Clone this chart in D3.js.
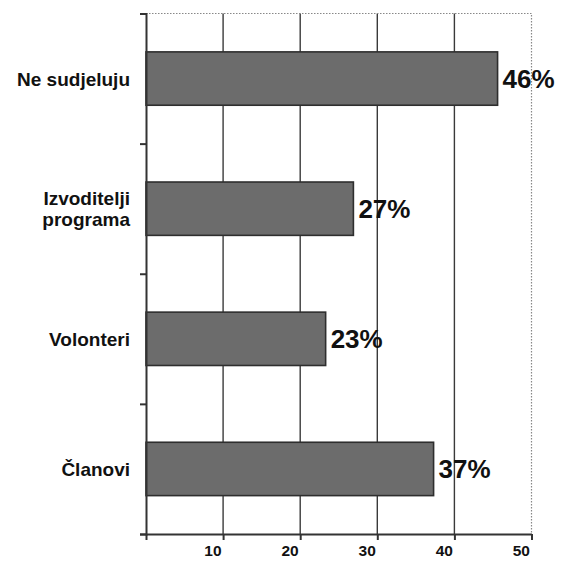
<!DOCTYPE html>
<html>
<head>
<meta charset="utf-8">
<script src="https://cdn.jsdelivr.net/npm/d3@7"></script>
<style>
  body { margin: 0; background: #fff; }
  text { font-family: "Liberation Sans", Arial, sans-serif; font-weight: bold; fill: #111; }
</style>
</head>
<body>
<svg></svg>
<script>
var width = 561;
var height = 568;
var margin = {top: 13.5, right: 29.5, bottom: 34, left: 146};

var categories = ["Ne sudjeluju", "Izvoditelji\nprograma", "Volonteri", "Članovi"];
var values = [45.6, 26.9, 23.3, 37.3];
var valueLabels = ["46%", "27%", "23%", "37%"];
var xTicks = [0, 10, 20, 30, 40, 50];

var svg = d3.select("svg")
    .attr("width", width)
    .attr("height", height);

var xScale = d3.scaleLinear()
    .domain([0, 50])
    .range([margin.left, width - margin.right]);

var yScale = d3.scaleBand()
    .domain(categories)
    .range([margin.top, height - margin.bottom])
    .paddingInner(0.59)
    .paddingOuter(0.295);

// boundaries between categories, for the left tick marks
var yEdges = d3.scaleLinear()
    .domain([0, categories.length])
    .range([margin.top, height - margin.bottom]);

// vertical grid lines
svg.append("g")
  .selectAll("line")
  .data(xTicks.slice(1, -1))
  .enter()
    .append("line")
    .attr("x1", d => xScale(d))
    .attr("x2", d => xScale(d))
    .attr("y1", margin.top)
    .attr("y2", height - margin.bottom)
    .attr("stroke", "#3a3a3a")
    .attr("stroke-width", 1.4);

// dotted frame top and right
svg.append("path")
    .attr("d", "M" + xScale(0) + "," + margin.top + "H" + xScale(50) + "V" + (height - margin.bottom))
    .attr("fill", "none")
    .attr("stroke", "#888")
    .attr("stroke-width", 1.2)
    .attr("stroke-dasharray", "1.5,1.5");

// bars
svg.append("g")
  .selectAll("rect")
  .data(values)
  .enter()
    .append("rect")
    .attr("x", xScale(0))
    .attr("y", (d, i) => yScale(categories[i]))
    .attr("width", d => xScale(d) - xScale(0))
    .attr("height", yScale.bandwidth())
    .attr("fill", "#6c6c6c")
    .attr("stroke", "#2e2e2e")
    .attr("stroke-width", 1.6);

// value labels
svg.append("g")
  .selectAll("text")
  .data(values)
  .enter()
    .append("text")
    .attr("x", d => xScale(d) + 5)
    .attr("y", (d, i) => yScale(categories[i]) + yScale.bandwidth() / 2 + 9.5)
    .style("font-size", "26px")
    .text((d, i) => valueLabels[i]);

// y axis
svg.append("g")
    .attr("transform", "translate(" + xScale(0) + ",0)")
    .call(d3.axisLeft(yEdges).ticks(categories.length).tickSize(6).tickFormat(""))
    .call(g => g.selectAll("path, line").attr("stroke", "#333").attr("stroke-width", 2));

// x axis
svg.append("g")
    .attr("transform", "translate(0," + (height - margin.bottom) + ")")
    .call(d3.axisBottom(xScale).tickValues(xTicks).tickSize(6).tickSizeOuter(0)
            .tickFormat(d => d === 0 ? "" : d))
    .call(g => g.selectAll("path, line").attr("stroke", "#333").attr("stroke-width", 2))
    .call(g => g.selectAll("text")
        .attr("fill", null)
        .attr("x", -2)
        .attr("y", 22)
        .attr("dy", 0)
        .style("text-anchor", "end")
        .style("font-size", "15.5px")
        .style("font-family", "'Liberation Sans', Arial, sans-serif")
        .style("font-weight", "bold"));

// category labels
svg.append("g")
  .selectAll("text")
  .data(categories)
  .enter()
    .append("text")
    .attr("text-anchor", "end")
    .style("font-size", "19px")
    .each(function(d) {
      var lines = d.split("\n");
      var mid = yScale(d) + yScale.bandwidth() / 2;
      var lineH = 21.5;
      var first = mid + 7 - (lines.length - 1) * lineH / 2;
      d3.select(this).selectAll("tspan")
        .data(lines)
        .enter()
          .append("tspan")
          .attr("x", 130)
          .attr("y", (l, i) => first + i * lineH)
          .text(l => l);
    });
</script>
</body>
</html>
